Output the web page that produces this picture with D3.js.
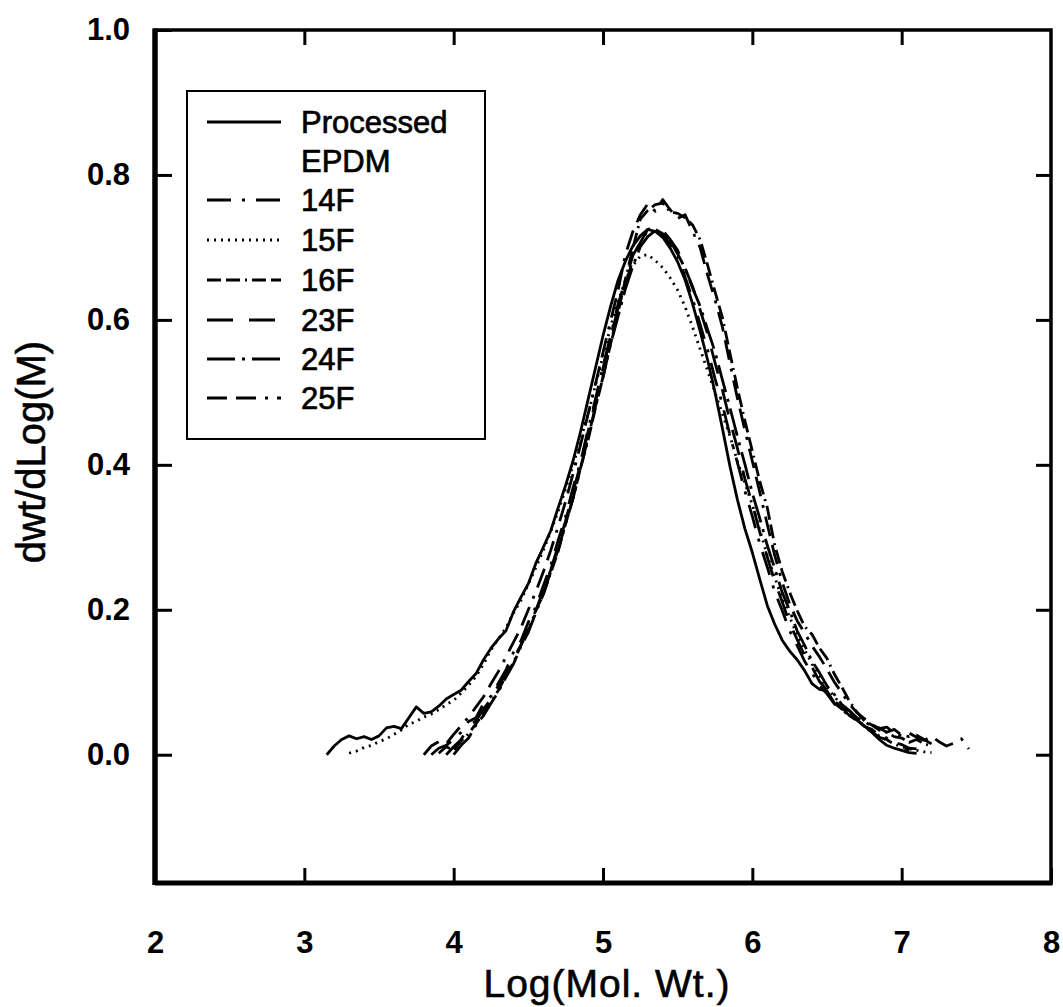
<!DOCTYPE html>
<html>
<head>
<meta charset="utf-8">
<script src="https://cdn.jsdelivr.net/npm/d3@7"></script>
<style>
  html, body { margin: 0; padding: 0; background: #fff; }
  svg { display: block; font-family: "Liberation Sans", Arial, sans-serif; }
</style>
</head>
<body>
<svg id="chart" width="1063" height="1007"></svg>
<script>
// Molecular weight distributions (GPC) of EPDM samples
const xTickValues = [2, 3, 4, 5, 6, 7, 8];
const yTickValues = [0.0, 0.2, 0.4, 0.6, 0.8, 1.0];
const seriesNames = ["Processed EPDM", "14F", "15F", "16F", "23F", "24F", "25F"];

// [Log(Mol. Wt.), dwt/dLog(M)]
const processedEPDM = [
  [3.15,0.000],[3.20,0.012],[3.25,0.021],[3.30,0.026],[3.35,0.022],[3.40,0.025],[3.45,0.021],[3.50,0.026],
  [3.55,0.037],[3.60,0.039],[3.65,0.036],[3.70,0.051],[3.75,0.066],[3.80,0.057],[3.85,0.059],[3.90,0.067],
  [3.95,0.077],[4.00,0.083],[4.05,0.089],[4.10,0.101],[4.15,0.112],[4.20,0.131],[4.25,0.147],[4.30,0.160],
  [4.35,0.171],[4.40,0.197],[4.45,0.217],[4.50,0.236],[4.55,0.264],[4.60,0.286],[4.65,0.309],[4.70,0.341],
  [4.75,0.372],[4.80,0.406],[4.85,0.446],[4.90,0.490],[4.95,0.534],[5.00,0.578],[5.05,0.618],[5.10,0.654],
  [5.15,0.681],[5.20,0.702],[5.25,0.716],[5.30,0.725],[5.35,0.722],[5.40,0.714],[5.45,0.699],[5.50,0.680],
  [5.55,0.655],[5.60,0.622],[5.65,0.585],[5.70,0.545],[5.75,0.500],[5.80,0.450],[5.85,0.398],[5.90,0.352],
  [5.95,0.312],[6.00,0.279],[6.05,0.242],[6.10,0.206],[6.15,0.180],[6.20,0.158],[6.25,0.143],[6.30,0.131],
  [6.35,0.116],[6.40,0.098],[6.45,0.090],[6.50,0.088],[6.55,0.071],[6.60,0.063],[6.65,0.061],[6.70,0.048],
  [6.75,0.040],[6.80,0.031],[6.85,0.021],[6.90,0.013],[6.95,0.009],[7.00,0.006],[7.05,0.003],[7.10,0.002]
];

const sample14F = [
  [3.85,0.000],[3.90,0.009],[3.95,0.013],[4.00,0.021],[4.05,0.031],[4.10,0.046],[4.15,0.051],[4.20,0.071],
  [4.25,0.081],[4.30,0.099],[4.35,0.117],[4.40,0.141],[4.45,0.157],[4.50,0.183],[4.55,0.204],[4.60,0.233],
  [4.65,0.261],[4.70,0.296],[4.75,0.329],[4.80,0.369],[4.85,0.404],[4.90,0.449],[4.95,0.491],[5.00,0.536],
  [5.05,0.577],[5.10,0.621],[5.15,0.654],[5.20,0.689],[5.25,0.707],[5.30,0.723],[5.35,0.725],[5.40,0.719],
  [5.45,0.704],[5.50,0.689],[5.55,0.659],[5.60,0.629],[5.65,0.594],[5.70,0.559],[5.75,0.519],[5.80,0.483],
  [5.85,0.441],[5.90,0.403],[5.95,0.364],[6.00,0.329],[6.05,0.291],[6.10,0.259],[6.15,0.225],[6.20,0.199],
  [6.25,0.171],[6.30,0.151],[6.35,0.129],[6.40,0.113],[6.45,0.095],[6.50,0.084],[6.55,0.070],[6.60,0.063],
  [6.65,0.053],[6.70,0.048],[6.75,0.039],[6.80,0.035],[6.85,0.027],[6.90,0.023],[6.95,0.017],[7.00,0.014],
  [7.05,0.009],[7.10,0.008]
];

const sample15F = [
  [3.30,0.002],[3.35,0.005],[3.40,0.010],[3.45,0.013],[3.50,0.018],[3.55,0.022],[3.60,0.028],[3.65,0.034],
  [3.70,0.042],[3.75,0.046],[3.80,0.052],[3.85,0.056],[3.90,0.062],[3.95,0.069],[4.00,0.075],[4.05,0.085],
  [4.10,0.096],[4.15,0.108],[4.20,0.125],[4.25,0.145],[4.30,0.160],[4.35,0.175],[4.40,0.195],[4.45,0.213],
  [4.50,0.235],[4.55,0.258],[4.60,0.282],[4.65,0.308],[4.70,0.336],[4.75,0.367],[4.80,0.400],[4.85,0.435],
  [4.90,0.470],[4.95,0.510],[5.00,0.550],[5.05,0.590],[5.10,0.625],[5.15,0.655],[5.20,0.675],[5.25,0.688],
  [5.30,0.690],[5.35,0.682],[5.40,0.672],[5.45,0.658],[5.50,0.641],[5.55,0.618],[5.60,0.590],[5.65,0.560],
  [5.70,0.530],[5.75,0.500],[5.80,0.470],[5.85,0.440],[5.90,0.405],[5.95,0.375],[6.00,0.345],[6.05,0.310],
  [6.10,0.275],[6.15,0.245],[6.20,0.215],[6.25,0.190],[6.30,0.165],[6.35,0.145],[6.40,0.125],[6.45,0.108],
  [6.50,0.093],[6.55,0.080],[6.60,0.068],[6.65,0.058],[6.70,0.048],[6.75,0.040],[6.80,0.032],[6.85,0.026],
  [6.90,0.020],[6.95,0.015],[7.00,0.011],[7.05,0.008],[7.10,0.006],[7.15,0.004],[7.20,0.003]
];

const sample16F = [
  [3.90,0.002],[3.95,0.011],[4.00,0.006],[4.05,0.019],[4.10,0.029],[4.15,0.043],[4.20,0.057],[4.25,0.073],
  [4.30,0.089],[4.35,0.109],[4.40,0.127],[4.45,0.151],[4.50,0.171],[4.55,0.199],[4.60,0.221],[4.65,0.251],
  [4.70,0.281],[4.75,0.319],[4.80,0.354],[4.85,0.396],[4.90,0.434],[4.95,0.479],[5.00,0.521],[5.05,0.566],
  [5.10,0.609],[5.15,0.656],[5.20,0.699],[5.25,0.739],[5.30,0.751],[5.35,0.759],[5.40,0.761],[5.45,0.749],
  [5.50,0.747],[5.55,0.741],[5.60,0.731],[5.65,0.711],[5.70,0.676],[5.75,0.639],[5.80,0.603],[5.85,0.554],
  [5.90,0.506],[5.95,0.461],[6.00,0.419],[6.05,0.377],[6.10,0.341],[6.15,0.289],[6.20,0.253],[6.25,0.224],
  [6.30,0.199],[6.35,0.177],[6.40,0.166],[6.45,0.147],[6.50,0.133],[6.55,0.111],[6.60,0.093],[6.65,0.074],
  [6.70,0.059],[6.75,0.047],[6.80,0.041],[6.85,0.034],[6.90,0.031],[6.95,0.025],[7.00,0.023],[7.05,0.017],
  [7.10,0.021],[7.15,0.015],[7.20,0.012]
];

const sample23F = [
  [3.95,0.000],[4.00,0.011],[4.05,0.021],[4.10,0.039],[4.15,0.047],[4.20,0.063],[4.25,0.077],[4.30,0.096],
  [4.35,0.111],[4.40,0.133],[4.45,0.151],[4.50,0.177],[4.55,0.199],[4.60,0.227],[4.65,0.255],[4.70,0.289],
  [4.75,0.323],[4.80,0.363],[4.85,0.401],[4.90,0.446],[4.95,0.487],[5.00,0.533],[5.05,0.574],[5.10,0.616],
  [5.15,0.649],[5.20,0.683],[5.25,0.707],[5.30,0.725],[5.35,0.727],[5.40,0.723],[5.45,0.711],[5.50,0.696],
  [5.55,0.671],[5.60,0.646],[5.65,0.614],[5.70,0.581],[5.75,0.541],[5.80,0.503],[5.85,0.461],[5.90,0.423],
  [5.95,0.381],[6.00,0.346],[6.05,0.307],[6.10,0.273],[6.15,0.239],[6.20,0.211],[6.25,0.181],[6.30,0.159],
  [6.35,0.137],[6.40,0.121],[6.45,0.101],[6.50,0.089],[6.55,0.074],[6.60,0.065],[6.65,0.054],[6.70,0.047],
  [6.75,0.037],[6.80,0.032],[6.85,0.024],[6.90,0.021],[6.95,0.014],[7.00,0.011],[7.05,0.006]
];

const sample24F = [
  [4.00,0.000],[4.05,0.013],[4.10,0.023],[4.15,0.041],[4.20,0.054],[4.25,0.071],[4.30,0.087],[4.35,0.107],
  [4.40,0.125],[4.45,0.149],[4.50,0.169],[4.55,0.196],[4.60,0.221],[4.65,0.253],[4.70,0.283],[4.75,0.319],
  [4.80,0.354],[4.85,0.396],[4.90,0.437],[4.95,0.481],[5.00,0.521],[5.05,0.566],[5.10,0.604],[5.15,0.643],
  [5.20,0.674],[5.25,0.701],[5.30,0.715],[5.35,0.723],[5.40,0.717],[5.45,0.709],[5.50,0.691],[5.55,0.671],
  [5.60,0.644],[5.65,0.619],[5.70,0.587],[5.75,0.556],[5.80,0.517],[5.85,0.479],[5.90,0.439],[5.95,0.401],
  [6.00,0.361],[6.05,0.326],[6.10,0.289],[6.15,0.257],[6.20,0.224],[6.25,0.199],[6.30,0.171],[6.35,0.151],
  [6.40,0.129],[6.45,0.113],[6.50,0.095],[6.55,0.083],[6.60,0.069],[6.65,0.061],[6.70,0.051],[6.75,0.046],
  [6.80,0.039],[6.85,0.037],[6.90,0.031],[6.95,0.035],[7.00,0.027],[7.05,0.025],[7.10,0.027],[7.15,0.021],
  [7.20,0.015]
];

const sample25F = [
  [3.80,0.000],[3.85,0.012],[3.90,0.018],[3.95,0.015],[4.00,0.028],[4.05,0.040],[4.10,0.052],[4.15,0.066],
  [4.20,0.080],[4.25,0.098],[4.30,0.115],[4.35,0.135],[4.40,0.155],[4.45,0.175],[4.50,0.200],[4.55,0.225],
  [4.60,0.252],[4.65,0.282],[4.70,0.315],[4.75,0.350],[4.80,0.388],[4.85,0.428],[4.90,0.470],[4.95,0.512],
  [5.00,0.555],[5.05,0.598],[5.10,0.640],[5.15,0.690],[5.20,0.722],[5.25,0.745],[5.30,0.760],[5.35,0.750],
  [5.40,0.766],[5.45,0.752],[5.50,0.740],[5.55,0.745],[5.60,0.722],[5.65,0.700],[5.70,0.662],[5.75,0.628],
  [5.80,0.590],[5.85,0.540],[5.90,0.492],[5.95,0.448],[6.00,0.405],[6.05,0.362],[6.10,0.318],[6.15,0.275],
  [6.20,0.238],[6.25,0.208],[6.30,0.185],[6.35,0.168],[6.40,0.150],[6.45,0.135],[6.50,0.118],[6.55,0.100],
  [6.60,0.085],[6.65,0.070],[6.70,0.058],[6.75,0.050],[6.80,0.042],[6.85,0.036],[6.90,0.038],[6.95,0.030],
  [7.00,0.026],[7.05,0.030],[7.10,0.024],[7.15,0.020],[7.20,0.025],[7.25,0.018],[7.30,0.012],[7.35,0.016],
  [7.40,0.022],[7.45,0.008]
];

const seriesData = [processedEPDM, sample14F, sample15F, sample16F, sample23F, sample24F, sample25F];

// line styles per series
const dashStyles = ["none", "24,11,3,11", "2,5", "14,5,14,5,2,5", "26,16", "28,7,3,7", "20,9,20,9,3,9"];

const svg = d3.select("#chart");
const plot = { left: 155, right: 1051, top: 30, bottom: 883 };

const x = d3.scaleLinear().domain([2, 8]).range([plot.left, plot.right]);
const y = d3.scaleLinear().domain([-0.177, 1.0]).range([plot.bottom, plot.top]);

// curves
const line = d3.line().x(d => x(d[0])).y(d => y(d[1]));
svg.append("g").attr("class", "curves")
  .selectAll("path").data(seriesData).join("path")
  .attr("d", line)
  .attr("fill", "none")
  .attr("stroke", "#000")
  .attr("stroke-width", 2.8)
  .attr("stroke-linejoin", "round")
  .attr("stroke-dasharray", (d, i) => dashStyles[i]);

// axes with inward ticks
const tickFont = g => g.selectAll("text")
  .attr("font-family", "'Liberation Sans', Arial, sans-serif")
  .attr("font-size", 31).attr("font-weight", "bold").attr("fill", "#000");

const leftAxis = svg.append("g").attr("transform", `translate(${plot.left},0)`)
  .call(d3.axisLeft(y).tickValues(yTickValues).tickSize(-17).tickPadding(25).tickFormat(d3.format(".1f")));
leftAxis.call(tickFont);

const bottomAxis = svg.append("g").attr("transform", `translate(0,${plot.bottom})`)
  .call(d3.axisBottom(x).tickValues(xTickValues).tickSize(-15).tickPadding(48).tickFormat(d3.format("d")));
bottomAxis.call(tickFont);

svg.append("g").attr("transform", `translate(0,${plot.top})`)
  .call(d3.axisTop(x).tickValues(xTickValues.slice(1, -1)).tickSize(-15).tickFormat(""));
svg.append("g").attr("transform", `translate(${plot.right},0)`)
  .call(d3.axisRight(y).tickValues(yTickValues.slice(0, -1)).tickSize(-15).tickFormat(""));

svg.selectAll(".domain").remove();
svg.selectAll(".tick line").attr("stroke", "#000").attr("stroke-width", 3);

// frame
svg.append("rect")
  .attr("x", plot.left).attr("y", plot.top)
  .attr("width", plot.right - plot.left).attr("height", plot.bottom - plot.top)
  .attr("fill", "none").attr("stroke", "#000").attr("stroke-width", 3.5);
svg.append("line")
  .attr("x1", plot.left).attr("x2", plot.left).attr("y1", plot.top - 1.5).attr("y2", plot.bottom + 2)
  .attr("stroke", "#000").attr("stroke-width", 5.5);
svg.append("line")
  .attr("x1", plot.left).attr("x2", plot.right + 1.5).attr("y1", plot.bottom).attr("y2", plot.bottom)
  .attr("stroke", "#000").attr("stroke-width", 5);

// axis titles
svg.append("text")
  .attr("x", 607).attr("y", 997)
  .attr("text-anchor", "middle")
  .attr("font-size", 39)
  .attr("letter-spacing", 1)
  .attr("stroke", "#000").attr("stroke-width", 0.6)
  .text("Log(Mol. Wt.)");
svg.append("text")
  .attr("transform", "translate(45,452) rotate(-90)")
  .attr("text-anchor", "middle")
  .attr("font-size", 40)
  .attr("stroke", "#000").attr("stroke-width", 0.6)
  .text("dwt/dLog(M)");

// legend
const legend = svg.append("g").attr("class", "legend");
legend.append("rect")
  .attr("x", 187).attr("y", 91).attr("width", 298).attr("height", 348)
  .attr("fill", "#fff").attr("stroke", "#000").attr("stroke-width", 2);

const rowY = [122, 200, 240, 280, 320, 359, 398];
const items = legend.selectAll("g.item").data(seriesNames).join("g").attr("class", "item");
items.append("line")
  .attr("x1", 207).attr("x2", 281)
  .attr("y1", (d, i) => rowY[i]).attr("y2", (d, i) => rowY[i])
  .attr("stroke", "#000").attr("stroke-width", 2.8)
  .attr("stroke-dasharray", (d, i) => dashStyles[i]);
items.append("text")
  .attr("x", 301)
  .attr("y", (d, i) => rowY[i])
  .attr("font-size", 31)
  .attr("stroke", "#000").attr("stroke-width", 0.7)
  .each(function (d, i) {
    const words = i === 0 ? d.split(" ") : [d];
    d3.select(this).selectAll("tspan").data(words).join("tspan")
      .attr("x", 301)
      .attr("dy", (w, j) => j === 0 ? "0.36em" : "1.25em")
      .text(w => w);
  });
</script>
</body>
</html>
